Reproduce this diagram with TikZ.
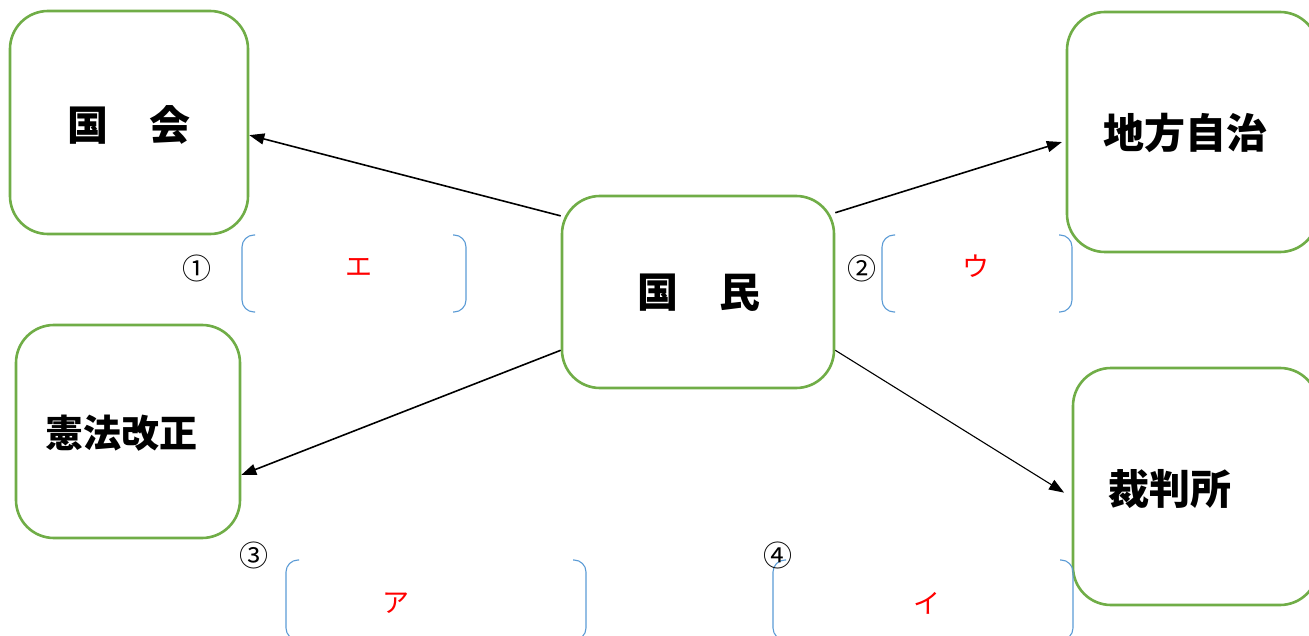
\documentclass[tikz,border=0pt]{standalone}
\usepackage{fontspec}
\setmainfont{Noto Sans CJK JP}
\usetikzlibrary{arrows.meta}
\definecolor{boxgreen}{HTML}{70AD47}
\definecolor{brblue}{HTML}{5B9BD5}
\definecolor{ansred}{HTML}{FF0000}
\tikzset{
  box/.style={draw=boxgreen, line width=2.6pt, rounded corners=38pt, inner sep=0pt, fill=white},
  boxtext/.style={font=\fontsize{41}{43}\selectfont\bfseries, inner sep=0pt},
  boxtextsmall/.style={font=\fontsize{38}{40}\selectfont\bfseries, inner sep=0pt},
  conn/.style={line width=1.6pt, -{Triangle[length=15pt,width=11pt]}},
  thinconn/.style={line width=1.1pt, -{Triangle[length=15pt,width=11pt]}},
  bracket/.style={draw=brblue, line width=1.1pt, rounded corners=12pt},
  numtext/.style={font=\fontsize{29}{31}\selectfont, inner sep=0pt},
  kanatext/.style={font=\fontsize{27}{29}\selectfont, text=ansred, inner sep=0pt},
}
\begin{document}
\begin{tikzpicture}[x=1pt,y=-1pt]
\useasboundingbox (0,0) rectangle (1309,636);
\clip (0,0) rectangle (1309,636);
% boxes
\node[box, minimum width=238pt, minimum height=223pt] (kokkai) at (129,122.5) {};
\node[box, minimum width=224pt, minimum height=213pt] (kenpo) at (128,431.5) {};
\node[box, minimum width=272pt, minimum height=192pt] (kokumin) at (698,292) {};
\node[box, minimum width=251pt, minimum height=240pt] (chiho) at (1192.5,132) {};
\node[box, minimum width=245pt, minimum height=237pt] (saiban) at (1195.5,486.5) {};
% texts
\node[boxtext] (t1) at (129,125) {国　会};
\node[boxtextsmall] (t2) at (121.5,433) {憲法改正};
\node[boxtext] (t3) at (698.5,293) {国　民};
\node[boxtext] (t4) at (1185.5,133) {地方自治};
\node[boxtext] (t5) at (1169.5,489) {裁判所};
% arrows
\draw[conn] (kokumin.151.5) -- (kokkai.-6.8);
\draw[conn, shorten >=4pt] (kokumin.30.5) -- (chiho.184.4);
\draw[conn] (kokumin.203.4) -- (kenpo.-21.6);
\draw[thinconn, shorten >=9pt] (kokumin.-23.3) -- (saiban.185.8);
% brackets
\draw[bracket] (255,235) -- (242,235) -- (242,312) -- (255,312);
\draw[bracket] (453,235) -- (466,235) -- (466,312) -- (453,312);
\draw[bracket] (895,235) -- (882,235) -- (882,312) -- (895,312);
\draw[bracket] (1059,235) -- (1072,235) -- (1072,312) -- (1059,312);
\draw[bracket] (299,560) -- (286,560) -- (286,640) -- (299,640);
\draw[bracket] (573,560) -- (586,560) -- (586,640) -- (573,640);
\draw[bracket] (786,560) -- (773,560) -- (773,640) -- (786,640);
\draw[bracket] (1060,560) -- (1073,560) -- (1073,640) -- (1060,640);
% numbers
\node[numtext] (n1) at (197,268) {①};
\node[numtext] (n2) at (862,268) {②};
\node[numtext] (n3) at (254,555) {③};
\node[numtext] (n4) at (778,555) {④};
% answers
\node[kanatext] (k1) at (358.5,267) {エ};
\node[kanatext] (k2) at (975.5,266) {ウ};
\node[kanatext] (k3) at (396,603) {ア};
\node[kanatext] (k4) at (927,603) {イ};
\end{tikzpicture}
\end{document}
